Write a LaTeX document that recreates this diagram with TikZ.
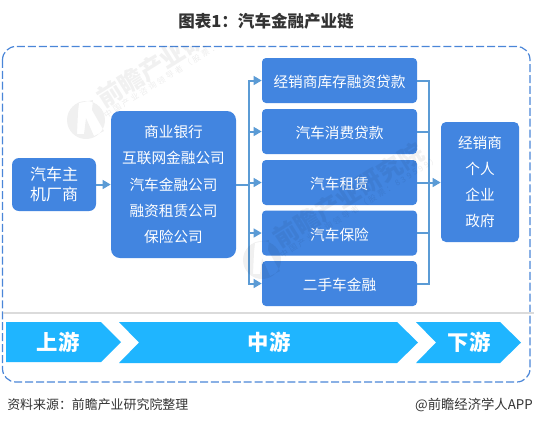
\documentclass[tikz,border=0pt]{standalone}
\usepackage{fontspec}
\setmainfont{Noto Sans CJK SC}
\usetikzlibrary{arrows.meta}
\definecolor{boxblue}{HTML}{4285E0}
\definecolor{connblue}{HTML}{5B9BD5}
\definecolor{bandblue}{HTML}{1FB5FF}
\definecolor{frameblue}{HTML}{4A86D8}
\definecolor{ink}{HTML}{333333}
\newcommand{\lowerstrut}{\rule{0pt}{11.5pt}}
\newcommand{\lowerstrutb}{\rule{0pt}{13pt}}
\tikzset{
  x=0.75pt,y=-0.75pt,
  bluebox/.style n args={3}{fill=boxblue,rounded corners=#3*0.75pt,text=white,inner sep=0pt,align=center,
    minimum width=#1*0.75pt,minimum height=#2*0.75pt,font=\fontsize{11}{19.7}\selectfont,execute at begin node=\lowerstrut},
  listbox/.style={execute at begin node=\lowerstrutb},
  conn/.style={draw=connblue,line width=1.5pt},
  tip/.style={-{Triangle[length=6pt,width=6.5pt]}},
  band/.style={fill=bandblue,draw=none},
  bandtext/.style={text=white,font=\fontsize{16}{18}\selectfont\bfseries,inner sep=0pt},
  wmlarge/.style={text=black,opacity=0.055,font=\fontsize{18.5}{20}\selectfont\bfseries,inner sep=0pt,rotate=32},
  wmsmall/.style={text=black,opacity=0.07,font=\fontsize{6}{7}\selectfont\addfontfeature{LetterSpace=30},inner sep=0pt,rotate=32},
  note/.style={text=ink,inner sep=0pt}
}
\begin{document}
\begin{tikzpicture}
\useasboundingbox[fill=white] (0,0) rectangle (534,426);
% frame
\draw[frameblue,line width=0.9pt,dash pattern=on 6pt off 2.2pt,rounded corners=10pt] (2.5,46.5) rectangle (530,382);
% divider
\draw[draw=black!14,line width=1.5pt] (2.5,313) -- (534,313);
% title
\node[text=ink,font=\fontsize{12.4}{14}\selectfont\bfseries,inner sep=0pt] (title) at (266,21) {图表1：汽车金融产业链};
% boxes
\node[bluebox={84}{53}{7},font=\fontsize{12}{15}\selectfont] (a) at (54,184.5) {汽车主\\机厂商};
\node[bluebox={125}{147}{9},listbox] (b) at (173.5,184.5) {商业银行\\互联网金融公司\\汽车金融公司\\融资租赁公司\\保险公司};
\node[bluebox={155}{45}{4}] (r1) at (339.5,80.5) {经销商库存融资贷款};
\node[bluebox={155}{45}{4}] (r2) at (339.5,131.5) {汽车消费贷款};
\node[bluebox={155}{45}{4}] (r3) at (339.5,182.5) {汽车租赁};
\node[bluebox={155}{45}{4}] (r4) at (339.5,233) {汽车保险};
\node[bluebox={155}{45}{4}] (r5) at (339.5,283.5) {二手车金融};
\node[bluebox={78}{120}{5},listbox] (d) at (480,182) {经销商\\个人\\企业\\政府};
% connectors
\coordinate (busl) at (248.5,184.5);
\coordinate (busr) at (429,182.5);
\draw[conn,tip] (a) -- (b);
\draw[conn] (b) -- (busl);
\foreach \n in {r1,r2,r3,r4,r5}{
  \draw[conn,tip] (busl) |- (\n.west);
  \draw[conn] (\n.east) -| (busr);
}
\draw[conn,tip] (busr) -- (d.west |- busr);
% bands
\fill[band] (6,322) -- (101,322) -- (121,342) -- (101,362) -- (6,362) -- cycle;
\fill[band] (119,322) -- (397,322) -- (418,342.5) -- (397,363) -- (119,363) -- (139,342.5) -- cycle;
\fill[band] (416,322) -- (500,322) -- (521,342.5) -- (500,363) -- (416,363) -- (436,342.5) -- cycle;
\node[bandtext] (up) at (58,342) {上游};
\node[bandtext] (mid) at (269,342.5) {中游};
\node[bandtext] (down) at (469,342.5) {下游};
% footer
\node[note,anchor=west,font=\fontsize{9.7}{11}\selectfont] (src) at (7,405) {资料来源：前瞻产业研究院整理};
\node[note,anchor=east,font=\fontsize{10}{11}\selectfont] (app) at (533,405) {@前瞻经济学人APP};
% watermarks
\begin{scope}
  \clip (0,46) rectangle (534,426);
  \fill[black,opacity=0.06,even odd rule] (86,120) circle[radius=19]
    (79,103) -- (93,100) -- (92,110) -- (104,131) -- (94,136) -- (86,118) -- (84,134) -- (77,134) -- (78,112) -- cycle;
  \node[wmlarge] (wa1) at (172.5,55) {前瞻产业研究院};
  \node[wmsmall] (wa2) at (183,67) {中国产业咨询领导者（股票：839599）};
\end{scope}
\begin{scope}[shift={(176,140)}]
  \fill[black,opacity=0.06,even odd rule] (86,120) circle[radius=19]
    (79,103) -- (93,100) -- (92,110) -- (104,131) -- (94,136) -- (86,118) -- (84,134) -- (77,134) -- (78,112) -- cycle;
  \node[wmlarge] (wb1) at (172.5,55) {前瞻产业研究院};
  \node[wmsmall] (wb2) at (183,67) {中国产业咨询领导者（股票：839599）};
\end{scope}
\end{tikzpicture}
\end{document}
